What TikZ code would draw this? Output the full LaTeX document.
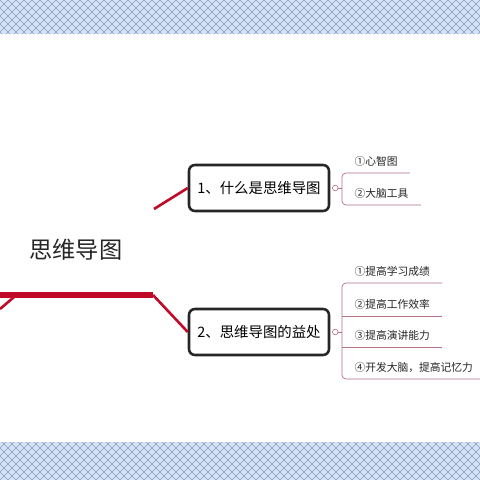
\documentclass[tikz,border=0pt]{standalone}
\usepackage{fontspec}
\newfontfamily\cjk{Noto Sans CJK SC}
\usetikzlibrary{positioning}
\definecolor{mapred}{HTML}{C00A28}
\definecolor{branchpink}{HTML}{B27380}
\definecolor{bandblue}{HTML}{D6E3F7}
\definecolor{hatchblue}{HTML}{8A9CC0}

\begin{document}
\begin{tikzpicture}[x=0.5mm,y=-0.5mm,
  topicbox/.style={draw=black!85,line width=3.6pt,rounded corners=3mm,fill=white,
    minimum width=70mm,minimum height=23mm,font=\cjk\fontsize{20.5}{24}\selectfont},
  subitem/.style={anchor=south west,inner xsep=6.2mm,inner ysep=3mm,text=black!85,
    font=\cjk\fontsize{15.3}{18}\selectfont},
  branch/.style={draw=branchpink,line width=1pt},
  knob/.style={draw=branchpink,fill=white,line width=0.9pt,circle,inner sep=0pt,minimum size=2.8mm},
  redline/.style={draw=mapred,line width=1.3mm}]
  \useasboundingbox (0,0) rectangle (480,480);
  \fill[white] (0,0) rectangle (480,480);
  \fill[bandblue] (0,0) rectangle (480,34);
  \fill[bandblue] (0,442) rectangle (480,480);
  \begin{scope}
    \clip (0,0) rectangle (480,34) (0,442) rectangle (480,480);
    \foreach \i in {-60,...,120}
      \draw[hatchblue,line width=0.8pt] (\i*8,0) -- ++(480,480) (\i*8,0) -- ++(-480,480);
  \end{scope}

  \node[font=\cjk\fontsize{33}{38}\selectfont,text=black!85] (map) at (76,250) {思维导图};
  \node[topicbox] (what) at (259,188) {1、什么是思维导图};
  \node[topicbox] (gain) at (259,332) {2、思维导图的益处};

  \coordinate (barL) at (0,295);
  \coordinate (barR) at (153,295);
  \coordinate (fork) at (154,209);
  \coordinate (edge) at (0,309);
  \draw[redline,line width=3mm] (barL) -- (barR);
  \draw[redline] (barR) -- (gain.west);
  \draw[redline] (fork) -- (what.west);
  \draw[redline] (edge) -- ++(14,-12);

  \node[knob] (whatknob) at ([xshift=2.5mm]what.east) {};
  \node[knob] (gainknob) at ([xshift=2.5mm]gain.east) {};

  \node[subitem] (a1) at (342,173) {①心智图};
  \node[subitem] (a2) at (342,205) {②大脑工具};
  \draw[branch,rounded corners=2mm] (a1.south east) -- (a1.south west) -- (a2.south west) -- (a2.south east);
  \draw[branch] (whatknob) -- (whatknob -| a1.south west);

  \node[subitem] (b1) at (342,283) {①提高学习成绩};
  \node[subitem] (b2) at (342,316) {②提高工作效率};
  \node[subitem] (b3) at (342,347) {③提高演讲能力};
  \node[subitem] (b4) at (342,379) {④开发大脑，提高记忆力};
  \draw[branch,rounded corners=2mm] (b1.south east) -- (b1.south west) -- (b4.south west) -- (b4.south east);
  \draw[branch] (b2.south west) -- (b2.south east);
  \draw[branch] (b3.south west) -- (b3.south east);
  \draw[branch] (gainknob) -- (gainknob -| b1.south west);
\end{tikzpicture}
\end{document}
